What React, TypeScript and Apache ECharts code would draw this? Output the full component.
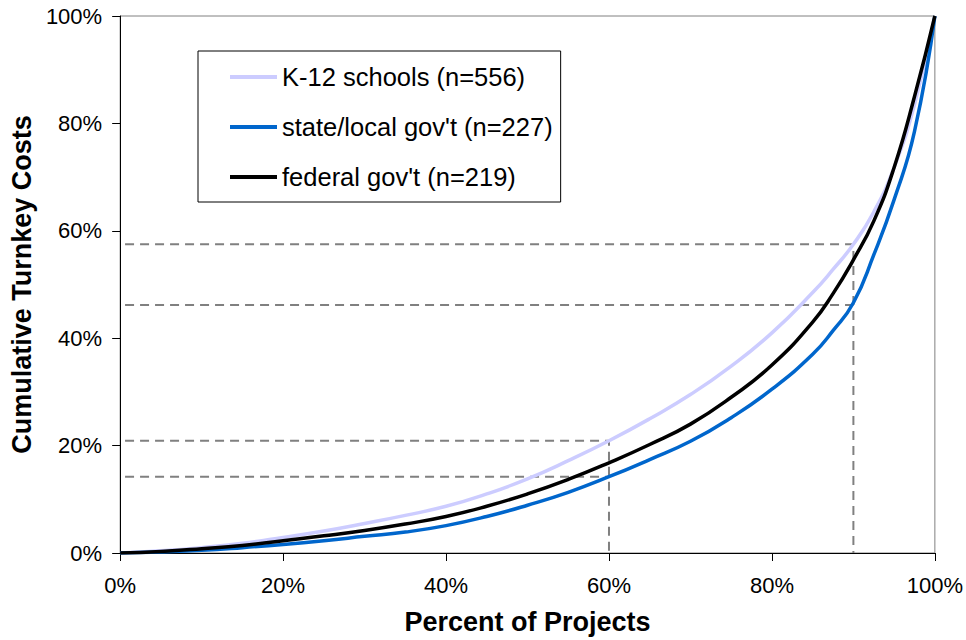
import React, { useEffect, useRef } from "react";
import * as echarts from "echarts";

const xPct = [0, 5, 10, 15, 20, 25, 30, 35, 40, 45, 50, 55, 60, 65, 70, 75, 80, 85, 87.5, 90, 92.5, 95, 97.5, 100];
const k12 = [0, 0.4, 1.0, 1.8, 2.9, 4.1, 5.5, 7.0, 8.7, 11.0, 13.8, 17.2, 20.9, 25.0, 29.5, 34.8, 41.0, 48.5, 52.8, 57.5, 63.5, 71.8, 83.5, 100];
const stateLocal = [0, 0.2, 0.5, 1.0, 1.6, 2.3, 3.1, 3.9, 5.1, 6.8, 8.9, 11.3, 14.2, 17.4, 20.8, 25.2, 30.5, 37.0, 41.4, 46.6, 55.5, 65.8, 78.5, 100];
const federal = [0, 0.3, 0.8, 1.4, 2.3, 3.2, 4.2, 5.4, 6.8, 8.7, 11.0, 13.7, 16.8, 20.2, 24.0, 29.0, 35.0, 43.0, 48.3, 54.6, 61.8, 71.8, 85.0, 100];

const seriesNames = ["K-12 schools (n=556)", "state/local gov't (n=227)", "federal gov't (n=219)"];
const seriesColors = ["#CCCCFF", "#0066CC", "#000000"];

// reference (dashed) guides: [x, y] pairs
const guide90Upper = [[0.6, 57.5], [90, 57.5], [90, 0]];
const guide90Lower = [[0.6, 46.2], [90, 46.2]];
const guide60Upper = [[0.6, 20.9], [60, 20.9], [60, 0]];
const guide60Lower = [[0.6, 14.2], [60, 14.2]];

const xTicks = [0, 20, 40, 60, 80, 100];

export default function App() {
  const ref = useRef<HTMLDivElement>(null);
  useEffect(() => {
    if (!ref.current) return;
    const chart = echarts.init(ref.current, null, { renderer: "svg" });
    const font = "'Liberation Sans', Arial, sans-serif";
    const pair = (ys: number[]) => xPct.map((x, i) => [x, ys[i]]);
    const guide = (d: number[][]) => ({
      type: "line",
      data: d,
      symbol: "none",
      silent: true,
      z: 1,
      lineStyle: { color: "#808080", width: 2, type: [9, 6] },
    });
    chart.setOption({
      animation: false,
      backgroundColor: "#ffffff",
      grid: {
        left: 116,
        right: 31,
        top: 16,
        bottom: 87,
        show: true,
        borderColor: "#808080",
        borderWidth: 1,
      },
      legend: {
        data: seriesNames,
        orient: "vertical",
        left: 198,
        top: 51,
        padding: [13, 8, 12, 32],
        itemGap: 24,
        itemWidth: 47,
        itemHeight: 4,
        icon: "rect",
        borderColor: "#000",
        borderWidth: 1,
        backgroundColor: "#fff",
        textStyle: { fontFamily: font, fontSize: 25.5, color: "#000", lineHeight: 24 },
      },
      xAxis: {
        type: "value",
        min: xTicks[0],
        max: xTicks[xTicks.length - 1],
        interval: 20,
        name: "Percent of Projects",
        nameLocation: "middle",
        nameGap: 55,
        nameTextStyle: { fontFamily: font, fontSize: 27, fontWeight: "bold", color: "#000" },
        axisLine: { lineStyle: { color: "#000", width: 1 } },
        axisTick: { show: true, length: 8, lineStyle: { color: "#000" } },
        axisLabel: { formatter: "{value}%", fontFamily: font, fontSize: 22, color: "#000", margin: 21 },
        splitLine: { show: false },
      },
      yAxis: {
        type: "value",
        min: 0,
        max: 100,
        interval: 20,
        name: "Cumulative Turnkey Costs",
        nameLocation: "middle",
        nameGap: 72,
        nameTextStyle: { fontFamily: font, fontSize: 27, fontWeight: "bold", color: "#000" },
        axisLine: { lineStyle: { color: "#000", width: 1 } },
        axisTick: { show: true, length: 8, lineStyle: { color: "#000" } },
        axisLabel: { formatter: "{value}%", fontFamily: font, fontSize: 22, color: "#000", margin: 18 },
        splitLine: { show: false },
      },
      series: [
        guide(guide90Upper),
        guide(guide90Lower),
        guide(guide60Upper),
        guide(guide60Lower),
        ...[k12, stateLocal, federal].map((ys, i) => ({
          name: seriesNames[i],
          type: "line",
          data: pair(ys),
          symbol: "none",
          smooth: 0.5,
          z: 3 + i,
          lineStyle: { color: seriesColors[i], width: 3.5 },
          itemStyle: { color: seriesColors[i] },
        })),
      ],
    });
    return () => chart.dispose();
  }, []);
  return <div ref={ref} style={{ width: 966, height: 640, position: "absolute", left: 0, top: 0 }} />;
}
